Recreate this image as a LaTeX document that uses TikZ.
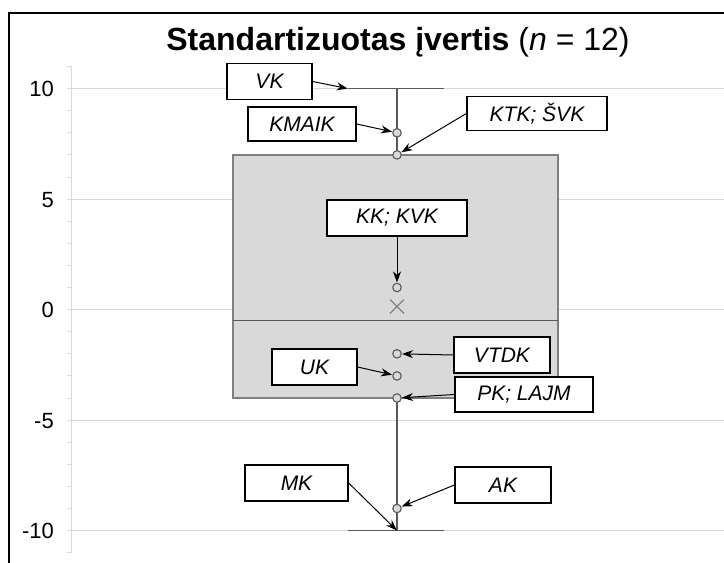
\documentclass[tikz,border=0pt]{standalone}
\usepackage{fontspec}
\setmainfont{Liberation Sans}
\usetikzlibrary{arrows.meta}
\definecolor{gridc}{HTML}{D9D9D9}
\definecolor{boxfill}{HTML}{D9D9D9}
\definecolor{boxline}{HTML}{808080}
\definecolor{whisk}{HTML}{595959}
\definecolor{ptline}{HTML}{595959}
\tikzset{
  lbl/.style={draw=black, line width=1.3pt, fill=white, inner sep=0pt,
    font=\fontsize{21}{24}\selectfont\itshape, anchor=center},
  pt/.style={circle, draw=ptline, fill=boxfill, line width=1.1pt, minimum size=8.5pt, inner sep=0pt},
  conn/.style={-{Stealth[length=11pt,width=8pt]}, line width=1pt, black, shorten >=0.3pt},
  ticklbl/.style={anchor=east, font=\fontsize{22}{24}\selectfont, inner sep=0pt},
}
\begin{document}
\begin{tikzpicture}[x=1pt,y=-1pt]
\useasboundingbox (0,0) rectangle (724,563);
\fill[white] (0,0) rectangle (724,563);
% frame
\draw[black, line width=2pt] (8.5,563) -- (8.5,12.5) -- (724,12.5);
% title
\node[font=\fontsize{32}{34}\selectfont, anchor=center] (title) at (398,42) {\textbf{Standartizuotas įvertis} (\textit{n} = 12)};
% grid lines
\foreach \v in {10,5,0,-5,-10}{
  \draw[gridc, line width=1pt] (67,{309.6-22.1*\v}) -- (724,{309.6-22.1*\v});
}
% axis
\draw[gridc, line width=1.2pt] (71.5,{309.6-22.1*11}) -- (71.5,{309.6+22.1*11});
\foreach \v in {-11,...,11}{
  \draw[gridc, line width=1pt] (66.5,{309.6-22.1*\v}) -- (71.5,{309.6-22.1*\v});
}
% tick labels
\node[ticklbl] (t10) at (54,89.3) {10};
\node[ticklbl] (t5) at (54,199.8) {5};
\node[ticklbl] (t0) at (54,310.3) {0};
\node[ticklbl] (tm5) at (54,420.8) {-5};
\node[ticklbl] (tm10) at (54,531.3) {-10};
% whisker
\draw[whisk, line width=1.2pt] (397,88.6) -- (397,530.6);
\draw[whisk, line width=1.6pt] (348,88.6) -- (444,88.6);
\draw[whisk, line width=1.6pt] (348,530.6) -- (444,530.6);
% box
\draw[boxline, fill=boxfill, line width=1.2pt] (233,154.9) rectangle (558,398.0);
\draw[whisk, line width=1.5pt] (233,320.6) -- (558,320.6);
% mean
\draw[gray, line width=1.3pt] (390,299.5) -- (404,313.5) (390,313.5) -- (404,299.5);
% points
\node[pt] (p8) at (397,132.8) {};
\node[pt] (p7) at (397,154.9) {};
\node[pt] (p1) at (397,287.5) {};
\node[pt] (pm2) at (397,353.8) {};
\node[pt] (pm3) at (397,375.9) {};
\node[pt] (pm4) at (397,398.0) {};
\node[pt] (pm9) at (397,508.5) {};
\coordinate (capL) at (348,88.6);
\coordinate (capB) at (397,530.6);
% labels
\node[lbl, minimum width=85pt, minimum height=36pt] (vk) at (269.5,81.5) {VK};
\node[lbl, minimum width=108pt, minimum height=34pt] (kmaik) at (302,124) {KMAIK};
\node[lbl, minimum width=140pt, minimum height=34pt] (ktk) at (537,113.5) {KTK; ŠVK};
\node[lbl, minimum width=140pt, minimum height=36pt] (kk) at (397,218) {KK; KVK};
\node[lbl, minimum width=96pt, minimum height=36pt] (vtdk) at (502,355) {VTDK};
\node[lbl, minimum width=85pt, minimum height=36pt] (uk) at (314.5,367) {UK};
\node[lbl, minimum width=138pt, minimum height=35pt] (pk) at (524,394.5) {PK; LAJM};
\node[lbl, minimum width=103pt, minimum height=36pt] (mk) at (296.5,483) {MK};
\node[lbl, minimum width=96pt, minimum height=36pt] (ak) at (503,485) {AK};
% connectors
\draw[conn] (vk.east) -- (capL);
\draw[conn] (kmaik.east) -- (p8);
\draw[conn] (ktk.west) -- (p7);
\draw[conn] (kk.south) -- (p1);
\draw[conn] (vtdk.west) -- (pm2);
\draw[conn] (uk.east) -- (pm3);
\draw[conn] (pk.west) -- (pm4);
\draw[conn] (mk.east) -- (capB);
\draw[conn] (ak.west) -- (pm9);
\end{tikzpicture}
\end{document}
